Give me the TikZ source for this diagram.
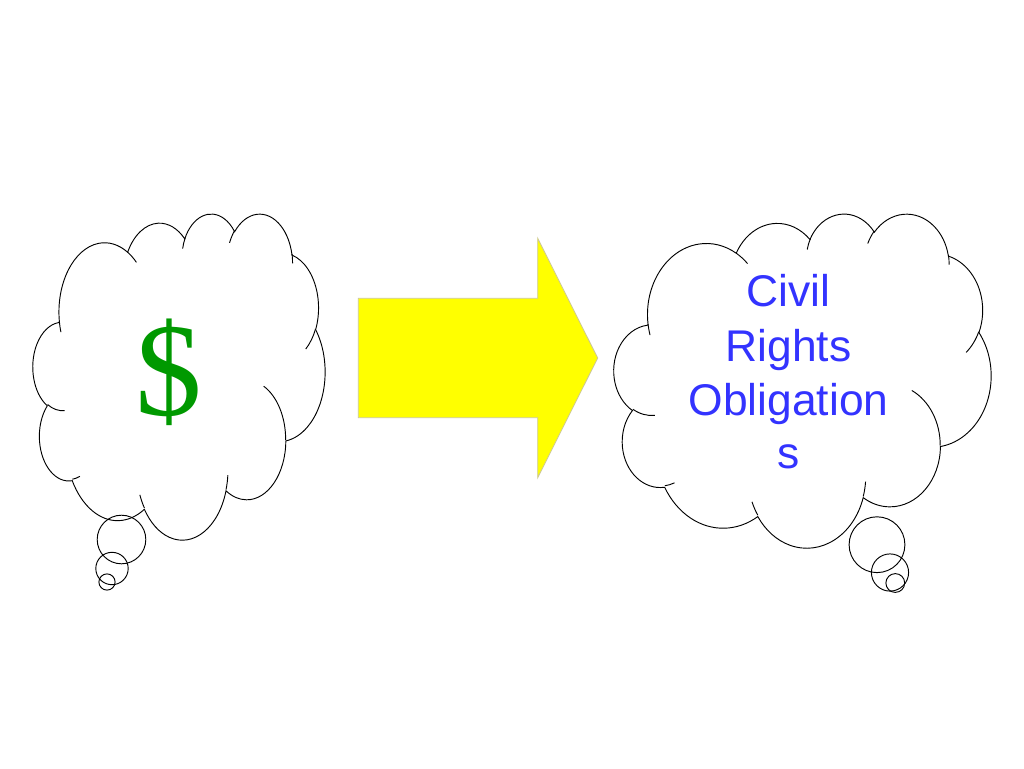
\documentclass[tikz,border=0pt]{standalone}
\usepackage{fontspec}
\setmainfont{Liberation Serif}
\newfontfamily\arialf{Liberation Sans}
\definecolor{dollargreen}{RGB}{0,153,0}
\definecolor{textblue}{RGB}{51,51,255}
\definecolor{arrowedge}{RGB}{205,200,150}
\definecolor{arrowfill}{RGB}{255,255,0}

% elliptic arc of the cloud shape: visual angles -> parametric angles
\newcommand\cpdef[5]{%
  \pgfmathsetmacro\cpsa{#4}%
  \pgfmathsetmacro\cpea{#4+#5}%
  \pgfmathsetmacro\cpta{atan2(#2*sin(\cpsa),#3*cos(\cpsa))}%
  \pgfmathsetmacro\cptb{atan2(#2*sin(\cpea),#3*cos(\cpea))}%
  \pgfmathsetmacro\cptd{mod(\cptb-\cpta+720,360)}%
  \edef\cptmp{\noexpand\tikzset{#1/.style={start angle=\cpta, delta angle=\cptd, x radius=#2, y radius=#3}}}%
  \cptmp}

\cpdef{cloudarcA}{67.53}{91.90}{-190.48748}{123.78053}
\cpdef{cloudarcB}{53.33}{72.67}{-144.10238}{89.94523}
\cpdef{cloudarcC}{43.65}{59.45}{-145.80792}{99.72302}
\cpdef{cloudarcD}{48.57}{65.95}{-130.98607}{117.24173}
\cpdef{cloudarcE}{53.33}{72.73}{-78.70888}{109.02692}
\cpdef{cloudarcF}{67.75}{92.20}{-46.26725}{130.269}
\cpdef{cloudarcG}{57.85}{78.67}{0.62502}{114.03333}
\cpdef{cloudarcH}{67.52}{92.15}{22.4516}{115.17255}
\cpdef{cloudarcI}{77.20}{105.43}{66.24263}{75.71102}
\cpdef{cloudarcJ}{43.60}{59.18}{-274.94208}{146.73557}
\cpdef{cloudarcK}{43.45}{59.45}{-246.8285}{152.51822}

\cpdef{innerA}{43.45}{59.45}{86.742}{26.4295}
\cpdef{innerB}{43.60}{59.18}{73.61047}{11.44747}
\cpdef{innerC}{67.52}{92.15}{137.62415}{14.0811}
\cpdef{innerD}{67.52}{92.15}{6.45327}{15.99835}
\cpdef{innerE}{57.85}{78.67}{-70.29235}{70.91737}
\cpdef{innerF}{53.33}{72.73}{30.31803}{27.7515}
\cpdef{innerG}{48.57}{65.95}{-13.74433}{14.8589}
\cpdef{innerH}{48.57}{65.95}{-149.18145}{18.19537}
\cpdef{innerI}{43.65}{59.45}{-163.49427}{17.68635}
\cpdef{innerJ}{67.53}{91.90}{-66.70695}{12.31935}
\cpdef{innerK}{67.53}{91.90}{157.65435}{11.85817}

\newcommand\cloudoutline{(39.00,143.70) arc[cloudarcA] arc[cloudarcB] arc[cloudarcC]
  arc[cloudarcD] arc[cloudarcE] arc[cloudarcF] arc[cloudarcG] arc[cloudarcH]
  arc[cloudarcI] arc[cloudarcJ] arc[cloudarcK] -- cycle}
\newcommand\cloudinner{(46.93,261.77) arc[innerA] (69.28,348.99) arc[innerB]
  (164.78,390.90) arc[innerC] (288.27,347.51) arc[innerD]
  (341.29,229.54) arc[innerE] (417.98,153.54) arc[innerF]
  (383.24,54.26) arc[innerG] (290.78,39.52) arc[innerH]
  (221.41,47.20) arc[innerI] (140.00,51.92) arc[innerJ]
  (41.27,157.89) arc[innerK]}

\tikzset{
  cloudline/.style={draw=black, line width=0.7pt},
  bubble/.style={draw=black, line width=0.7pt},
  blockarrow/.style={fill=arrowfill, draw=arrowedge, line width=0.6pt, line join=miter},
  bluetext/.style={text=textblue, font=\arialf\fontsize{33.3}{40}\selectfont, anchor=base, inner sep=0pt},
}

\begin{document}
\begin{tikzpicture}[x=0.75pt,y=-0.75pt]
\fill[white] (0,0) rectangle (1024,768);
\useasboundingbox (0,0) rectangle (1024,768);

% left cloud
\begin{scope}[xshift=24.75pt, yshift=-159.75pt, x=0.50694pt, y=-0.56597pt]
  \draw[cloudline] \cloudoutline;
  \draw[cloudline] \cloudinner;
\end{scope}
\draw[bubble] (121.5,539.5) circle[radius=24.3];
\draw[bubble] (112,568.5) circle[radius=16.2];
\draw[bubble] (107,582) circle[radius=8.1];

% right cloud
\begin{scope}[xshift=460.5pt, yshift=-159.75pt, x=0.65451pt, y=-0.57986pt]
  \draw[cloudline] \cloudoutline;
  \draw[cloudline] \cloudinner;
\end{scope}
\draw[bubble] (877,544.7) circle[radius=27.9];
\draw[bubble] (890,572.5) circle[radius=18.6];
\draw[bubble] (895.3,583) circle[radius=9.4];

% block arrow
\draw[blockarrow] (358.3,298.3) -- (537.7,298.3) -- (537.7,238.3) -- (597.7,358)
  -- (537.7,477.7) -- (537.7,417.7) -- (358.3,417.7) -- cycle;

% texts
\node[text=dollargreen, font=\fontsize{100}{100}\selectfont, anchor=base, inner sep=0pt] (dollar) at (168.5,415) {\$};
\node[bluetext] (civil) at (788.5,306) {Civil};
\node[bluetext] (rights) at (788.5,361) {Rights};
\node[bluetext] (oblig) at (788.5,415) {Obligation};
\node[bluetext] (oblis) at (788.5,468) {s};
\end{tikzpicture}
\end{document}
